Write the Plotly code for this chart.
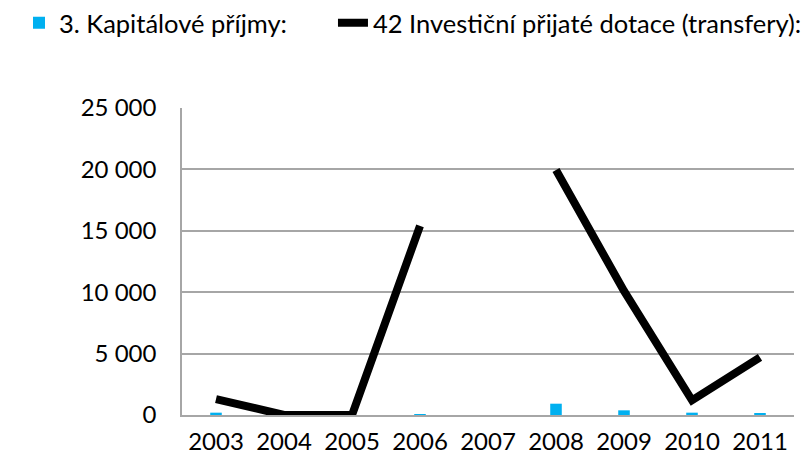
import plotly.graph_objects as go

years = ["2003", "2004", "2005", "2006", "2007", "2008", "2009", "2010", "2011"]
kapitalove = [190, 0, 0, 30, 0, 920, 380, 190, 120]
dotace = [1300, 0, 0, 15400, None, 19950, 10100, 1200, 4700]
y_ticks = [0, 5000, 10000, 15000, 20000, 25000]
y_labels = ["0", "5 000", "10 000", "15 000", "20 000", "25 000"]

FONT = "Lato"

fig = go.Figure()
fig.add_trace(go.Bar(
    x=years, y=kapitalove, name="3. Kapitálové příjmy:",
    marker=dict(color="#00b0f0", line=dict(width=0)), width=0.17,
    legend="legend",
))
fig.add_trace(go.Scatter(
    x=years, y=dotace, name="42 Investiční přijaté dotace (transfery):",
    mode="lines", line=dict(color="#000000", width=8), connectgaps=False,
    legend="legend2",
))

legend_common = dict(
    orientation="h", xref="container", yref="container",
    xanchor="left", yanchor="middle", bgcolor="rgba(0,0,0,0)", y=0.967,
    font=dict(family=FONT, size=25.5, color="#000000"),
)

fig.update_layout(
    width=809, height=461,
    margin=dict(l=174, r=23, t=100, b=54),
    paper_bgcolor="white", plot_bgcolor="white",
    font=dict(family=FONT, size=24, color="#000000"),
    showlegend=True,
    legend=dict(x=0.0136, **legend_common),
    legend2=dict(x=0.4017, **legend_common),
    xaxis=dict(
        showgrid=False, showline=True, linecolor="#a6a6a6", linewidth=1.5,
        ticks="", tickfont=dict(size=24), ticklabelstandoff=4,
    ),
    yaxis=dict(
        range=[0, 25000], tickvals=y_ticks, ticktext=y_labels,
        showgrid=True, gridcolor="#a6a6a6", gridwidth=1.5,
        showline=True, linecolor="#a6a6a6", linewidth=1.5,
        zeroline=False, ticks="", tickfont=dict(size=24), ticklabelstandoff=19,
    ),
)

fig.write_html("out.html")
